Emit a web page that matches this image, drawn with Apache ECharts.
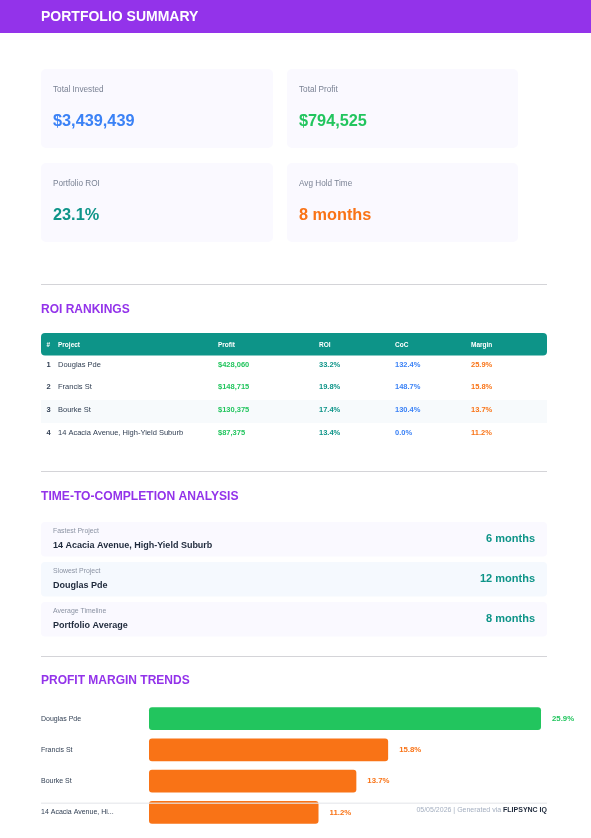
<!DOCTYPE html>
<html>
<head>
<meta charset="utf-8">
<title>Portfolio Summary</title>
<style>
html, body { margin: 0; padding: 0; background: #fff; }
#page { width: 591px; height: 838px; }
</style>
<script src="https://cdn.jsdelivr.net/npm/echarts@6/dist/echarts.min.js"></script>
</head>
<body>
<div id="page"></div>
<script>
var kpiLabels = ['Total Invested', 'Total Profit', 'Portfolio ROI', 'Avg Hold Time'];
var kpiValues = ['$3,439,439', '$794,525', '23.1%', '8 months'];

var tableHeads = ['#', 'Project', 'Profit', 'ROI', 'CoC', 'Margin'];
var projects = ['Douglas Pde', 'Francis St', 'Bourke St', '14 Acacia Avenue, High-Yield Suburb'];
var profits = ['$428,060', '$148,715', '$130,375', '$87,375'];
var rois = ['33.2%', '19.8%', '17.4%', '13.4%'];
var cocs = ['132.4%', '148.7%', '130.4%', '0.0%'];
var margins = [25.9, 15.8, 13.7, 11.2];

var timeLabels = ['Fastest Project', 'Slowest Project', 'Average Timeline'];
var timeNames = ['14 Acacia Avenue, High-Yield Suburb', 'Douglas Pde', 'Portfolio Average'];
var timeValues = ['6 months', '12 months', '8 months'];

var PURPLE = '#9333ea', TEAL = '#0d9488', BLUE = '#3b82f6', GREEN = '#22c55e', ORANGE = '#f97316';
var FONT = '"Liberation Sans", Arial, sans-serif';

var els = [];

function rect(x, y, w, h, fill, r, z, opacity) {
	els.push({
		type: 'rect', silent: true, z: z || 0,
		shape: { x: x, y: y, width: w, height: h, r: r || 0 },
		style: { fill: fill, opacity: opacity === undefined ? 1 : opacity }
	});
}

function text(x, y, str, size, color, bold, align) {
	els.push({
		type: 'text', silent: true, z: 1, x: x, y: y,
		style: {
			text: str, fill: color, fontFamily: FONT, fontSize: size,
			fontWeight: bold ? 'bold' : 'normal',
			align: align || 'left', verticalAlign: 'middle'
		}
	});
}

// header band
rect(0, 0, 591, 33, PURPLE);
text(41, 17, 'PORTFOLIO SUMMARY', 14, '#fff', true);

// kpi cards
var kpiColors = [BLUE, GREEN, TEAL, ORANGE];
var cardX = [41, 287], cardY = [69, 163];
kpiLabels.forEach(function (label, i) {
	var x = cardX[i % 2], y = cardY[Math.floor(i / 2)];
	rect(x, y, i % 2 ? 231 : 232, 79, '#faf9ff', 5);
	text(x + 12, y + 21, label, 8.2, '#7a8294');
	text(x + 12, y + 53, kpiValues[i], 16.3, kpiColors[i], true);
});

// section rules and titles
[284, 471, 656].forEach(function (y) {
	rect(41, y, 506, 1, '#d4d4d8');
});
text(41, 310, 'ROI RANKINGS', 12, PURPLE, true);
text(41, 497, 'TIME-TO-COMPLETION ANALYSIS', 12.1, PURPLE, true);
text(41, 681, 'PROFIT MARGIN TRENDS', 12, PURPLE, true);

// ranking table
var colX = [46.5, 58, 218, 319, 395, 471];
var rowY = [364.5, 386.5, 409.5, 432.5];
rect(41, 333, 506, 22.5, TEAL, 4);
tableHeads.forEach(function (head, i) {
	text(colX[i], 345, head, 6.5, '#fff', true);
});
rect(41, 400, 506, 23, '#f7fafc');
projects.forEach(function (name, i) {
	var y = rowY[i];
	text(colX[0], y, String(i + 1), 7.5, '#334155', true);
	text(colX[1], y, name, 7.5, '#334155');
	text(colX[2], y, profits[i], 7.5, GREEN, true);
	text(colX[3], y, rois[i], 7.5, TEAL, true);
	text(colX[4], y, cocs[i], 7.5, BLUE, true);
	text(colX[5], y, margins[i].toFixed(1) + '%', 7.5, ORANGE, true);
});

// time to completion rows
var timeY = [522, 562, 602];
var timeFill = ['#faf9ff', '#f5f9fe', '#faf9ff'];
timeLabels.forEach(function (label, i) {
	var y = timeY[i];
	rect(41, y, 506, 34.5, timeFill[i], 4);
	text(53, y + 9, label, 6.9, '#8b93a3');
	text(53, y + 24, timeNames[i], 9, '#1e293b', true);
	text(535, y + 17, timeValues[i], 11, TEAL, true, 'right');
});

// footer sits on top of the last bar
rect(41, 802.5, 506, 1.5, '#e5e7eb', 0, 10, 0.75);
els.push({
	type: 'text', silent: true, z: 11, x: 547, y: 810,
	style: {
		text: '{a|05/05/2026 | Generated via }{b|FLIPSYNC IQ}',
		align: 'right', verticalAlign: 'middle',
		rich: {
			a: { fontFamily: FONT, fontSize: 7, fill: '#a4afc0' },
			b: { fontFamily: FONT, fontSize: 7, fontWeight: 'bold', fill: '#1e293b' }
		}
	}
});

var myChart = echarts.init(document.getElementById('page'), null, { width: 591, height: 838 });

var option = {
	animation: false,
	backgroundColor: '#fff',
	graphic: { elements: els },
	grid: { left: 149, top: 703, width: 392, height: 125, containLabel: false },
	xAxis: {
		type: 'value', min: 0, max: margins[0],
		show: false
	},
	yAxis: {
		type: 'category', inverse: true,
		data: projects,
		axisLine: { show: false },
		axisTick: { show: false },
		axisLabel: {
			align: 'left', margin: 108, color: '#334155',
			fontFamily: FONT, fontSize: 7,
			width: 76, overflow: 'truncate', ellipsis: '...'
		}
	},
	series: [{
		type: 'bar',
		barWidth: 22.6,
		clip: false,
		data: margins.map(function (v, i) {
			var c = i === 0 ? GREEN : ORANGE;
			return {
				value: v,
				itemStyle: { color: c, borderRadius: 3 },
				label: { color: c }
			};
		}),
		label: {
			show: true, position: 'right', distance: 11,
			fontFamily: FONT, fontSize: 7.8, fontWeight: 'bold',
			formatter: function (p) { return p.value.toFixed(1) + '%'; }
		}
	}]
};

myChart.setOption(option);
</script>
</body>
</html>
